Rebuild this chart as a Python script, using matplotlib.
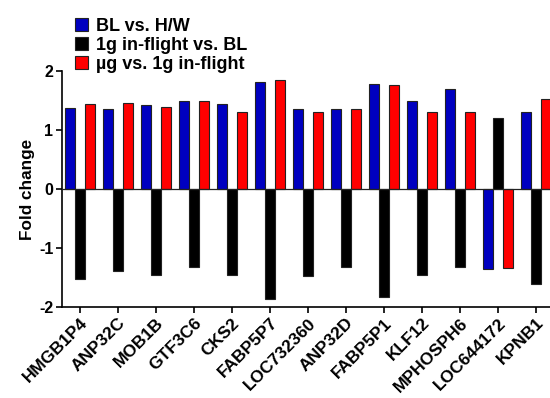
import matplotlib.pyplot as plt
import numpy as np

plt.rcParams['font.family'] = ['Liberation Sans', 'DejaVu Sans']
plt.rcParams['font.weight'] = 'bold'

# Data
genes = ['HMGB1P4', 'ANP32C', 'MOB1B', 'GTF3C6', 'CKS2', 'FABP5P7', 'LOC732360',
         'ANP32D', 'FABP5P1', 'KLF12', 'MPHOSPH6', 'LOC644172', 'KPNB1']
bl_vs_hw = [1.38, 1.36, 1.42, 1.50, 1.435, 1.81, 1.35, 1.36, 1.785, 1.50, 1.69, -1.36, 1.30]
inflight_1g_vs_bl = [-1.525, -1.39, -1.46, -1.32, -1.46, -1.86, -1.48, -1.32, -1.83, -1.46, -1.32, 1.20, -1.61]
ug_vs_1g = [1.446, 1.45, 1.39, 1.49, 1.31, 1.84, 1.30, 1.35, 1.77, 1.305, 1.305, -1.345, 1.52]

series_labels = ['BL vs. H/W', '1g in-flight vs. BL', 'µg vs. 1g in-flight']
colors = ['#0000c0', '#000000', '#ff0000']

x = np.arange(len(genes))
width = 0.26

fig = plt.figure(figsize=(5.5, 3.98), dpi=100)
ax = fig.add_axes([0.112, 0.2286, 0.888, 0.593])

handles = []
for i, (vals, c, lab) in enumerate(zip([bl_vs_hw, inflight_1g_vs_bl, ug_vs_1g], colors, series_labels)):
    h = ax.bar(x + (i - 1) * width, vals, width, color=c, edgecolor='#222222',
               linewidth=0.8, label=lab, zorder=2)
    handles.append(h)

ax.axhline(0, color='#222222', linewidth=0.9, zorder=3)

ax.set_xlim(-0.48, 12.37)
ax.set_ylim(-2, 2)
ax.set_yticks([-2, -1, 0, 1, 2])
ax.set_yticklabels(['-2', '-1', '0', '1', '2'], fontsize=11.5, fontweight='bold')
ax.set_xticks(x)
ax.set_xticklabels(genes, rotation=45, ha='right', rotation_mode='anchor',
                   fontsize=12.5, fontweight='bold')
ax.tick_params(axis='both', direction='out', length=4, width=1.2, pad=2)
ax.set_ylabel('Fold change', fontsize=12.3, fontweight='bold', labelpad=3)

for s in ['top', 'right']:
    ax.spines[s].set_visible(False)
for s in ['left', 'bottom']:
    ax.spines[s].set_linewidth(1.2)

fig.legend(handles=handles, loc='upper left', bbox_to_anchor=(0.123, 0.974),
           frameon=False, fontsize=13, handlelength=0.72, handleheight=0.8,
           handletextpad=0.45, labelspacing=0.1, borderaxespad=0)

fig.savefig('out.png', dpi=100)
